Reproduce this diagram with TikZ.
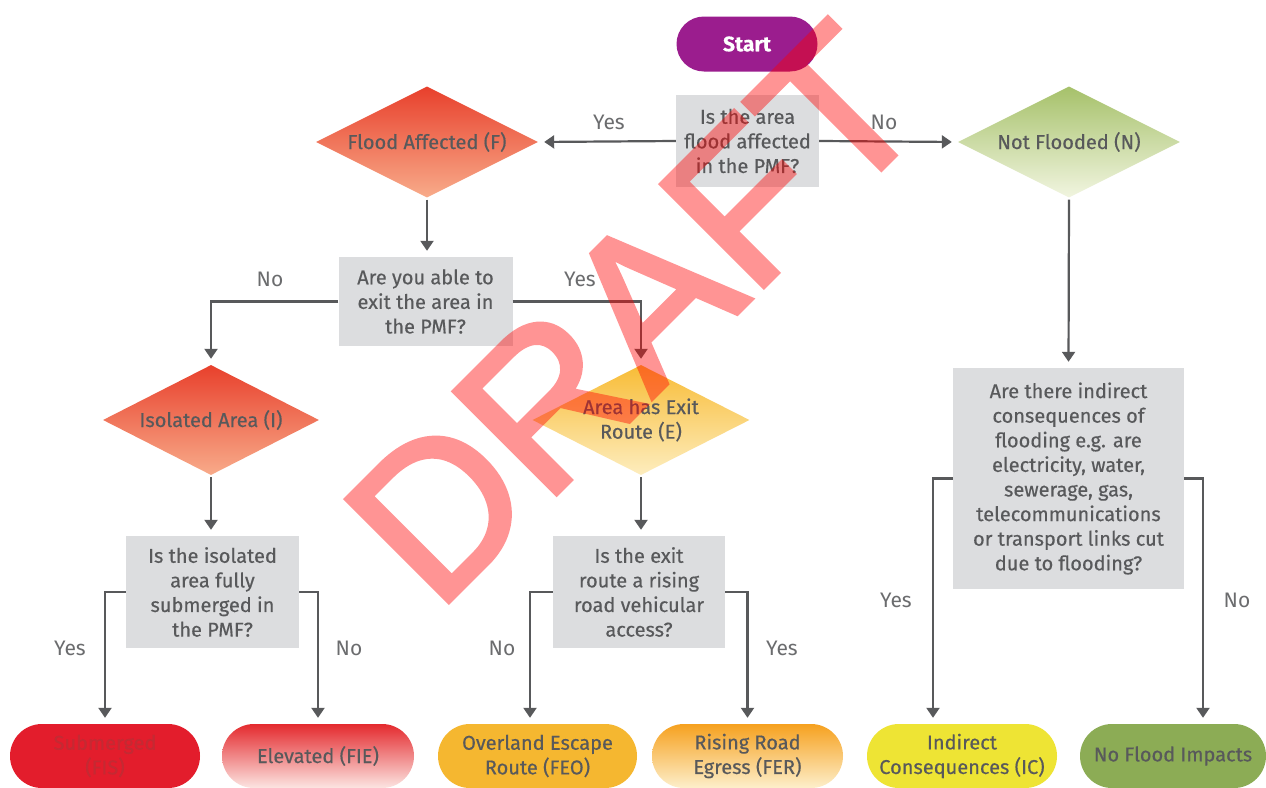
\documentclass[tikz,border=0pt]{standalone}
\usepackage{fontspec}
\setmainfont{Fira Sans}[FakeBold=0.4]
\newfontfamily\lblfont{Fira Sans}
\newfontfamily\wmfont{Liberation Sans}[FakeBold=2.2]
\usetikzlibrary{shapes.geometric,shapes.misc,arrows.meta,calc}
\definecolor{txt}{HTML}{58595B}
\definecolor{lbl}{HTML}{6B6C6E}
\definecolor{lin}{HTML}{58595B}
\definecolor{qgray}{HTML}{DCDDDF}
\definecolor{purp}{HTML}{9B1D8E}
\definecolor{redtop}{HTML}{E8402C}
\definecolor{redbot}{HTML}{F8AB8A}
\definecolor{grtop}{HTML}{A6C16A}
\definecolor{grbot}{HTML}{F1F5E0}
\definecolor{yetop}{HTML}{F8BC36}
\definecolor{yebot}{HTML}{FDEDBE}
\definecolor{fisc}{HTML}{E31D2C}
\definecolor{fistxt}{HTML}{C42A33}
\definecolor{fietop}{HTML}{E42A2E}
\definecolor{fiebot}{HTML}{FCE5E2}
\definecolor{feoc}{HTML}{F5B730}
\definecolor{fertop}{HTML}{F6A11F}
\definecolor{ferbot}{HTML}{FDEFCB}
\definecolor{icc}{HTML}{EEE434}
\definecolor{nfic}{HTML}{8CAC55}
\begin{document}
\begin{tikzpicture}[x=1pt,y=-1pt,
  font=\fontsize{20}{24.6}\selectfont,
  qbox/.style={fill=qgray, text=txt, align=center, inner sep=0pt},
  dia/.style={diamond, aspect=2, inner sep=0pt, text=txt, align=center},
  pill/.style={rounded rectangle, minimum height=64pt, inner sep=0pt, text=txt, align=center},
  arr/.style={draw=lin, line width=2.2pt, -{Triangle[width=13pt,length=10pt]}, shorten >=6pt},
  lab/.style={text=lbl, font=\lblfont\fontsize{21}{22}\selectfont}
]
\useasboundingbox (0,0) rectangle (1266,787);
\fill[white] (0,0) rectangle (1266,787);

% nodes
\node[pill, fill=purp, text=white, minimum width=141pt, minimum height=55pt, font=\fontsize{21}{22}\selectfont\bfseries] (start) at (747,44) {Start};
\node[qbox, minimum width=143pt, minimum height=92pt] (q1) at (747.5,141) {Is the area\\flood affected\\in the PMF?};
\node[dia, top color=redtop, bottom color=redbot, minimum width=222pt, minimum height=111pt] (fa) at (427,142) {Flood Affected (F)};
\node[dia, top color=grtop, bottom color=grbot, minimum width=222pt, minimum height=111pt] (nf) at (1069,142) {Not Flooded (N)};
\node[qbox, minimum width=174pt, minimum height=89pt] (q2) at (425.5,301.5) {Are you able to\\exit the area in\\the PMF?};
\node[dia, top color=redtop, bottom color=redbot, minimum width=216pt, minimum height=110pt] (ia) at (211,420) {Isolated Area (I)};
\node[dia, top color=yetop, bottom color=yebot, minimum width=217pt, minimum height=110pt] (ae) at (641,420) {Area has Exit\\Route (E)};
\node[qbox, minimum width=173pt, minimum height=112pt] (q3) at (212.5,592) {Is the isolated\\area fully\\submerged in\\the PMF?};
\node[qbox, minimum width=172pt, minimum height=112pt] (q4) at (639,592) {Is the exit\\route a rising\\road vehicular\\access?};
\node[qbox, minimum width=231pt, minimum height=221pt] (q5) at (1068.5,478.5) {Are there indirect\\consequences of\\flooding e.g. are\\electricity, water,\\sewerage, gas,\\telecommunications\\or transport links cut\\due to flooding?};

\node[pill, fill=fisc, text=fistxt, minimum width=190pt] (fis) at (105,756) {Submerged\\(FIS)};
\node[pill, top color=fietop, bottom color=fiebot, minimum width=192pt] (fie) at (318,756) {Elevated (FIE)};
\node[pill, fill=feoc, minimum width=199pt] (feo) at (537.5,756) {Overland Escape\\Route (FEO)};
\node[pill, top color=fertop, bottom color=ferbot, minimum width=191pt] (fer) at (747.5,756) {Rising Road\\Egress (FER)};
\node[pill, fill=icc, minimum width=190pt] (ic) at (962,756) {Indirect\\Consequences (IC)};
\node[pill, fill=nfic, minimum width=186pt] (nfi) at (1173,756) {No Flood Impacts};

% column coordinates for connectors
\coordinate (cfeo) at (530,0);
\coordinate (cic) at (933,0);
\coordinate (cnfi) at (1203,0);

% connectors
\draw[arr] (q1.west) -- (fa.east);
\draw[arr] (q1.east) -- (nf.west);
\draw[arr, shorten <=2pt] (fa.south) -- (fa.south |- q2.north);
\draw[arr] (q2.west) -| (ia.north);
\draw[arr] (q2.east) -| (ae.north);
\draw[arr, shorten <=2pt] (ia.south) -- (ia.south |- q3.north);
\draw[arr, shorten <=2pt] (ae.south) -- (ae.south |- q4.north);
\draw[arr] (q3.west) -| (fis.north);
\draw[arr] (q3.east) -| (fie.north);
\draw[arr] (q4.west) -| (cfeo |- feo.north);
\draw[arr] (q4.east) -| (fer.north);
\draw[arr, shorten <=2pt] (nf.south) -- (q5.north);
\draw[arr] (q5.west) -| (cic |- ic.north);
\draw[arr] (q5.east) -| (cnfi |- nfi.north);

% labels
\node[lab] (l1) at (609,122) {Yes};
\node[lab] (l2) at (884,122) {No};
\node[lab] (l3) at (270,279) {No};
\node[lab] (l4) at (580,279) {Yes};
\node[lab] (l5) at (70,648) {Yes};
\node[lab] (l6) at (349,648) {No};
\node[lab] (l7) at (502,648) {No};
\node[lab] (l8) at (782,648) {Yes};
\node[lab] (l9) at (896,600) {Yes};
\node[lab] (l10) at (1237,600) {No};

% watermark
\begin{scope}[transparency group, opacity=0.42]
\node[font=\wmfont\fontsize{211}{211}\selectfont, text=red, rotate=45, inner sep=0pt] (wm) at (634,314) {DRAFT};
\end{scope}
\end{tikzpicture}
\end{document}
